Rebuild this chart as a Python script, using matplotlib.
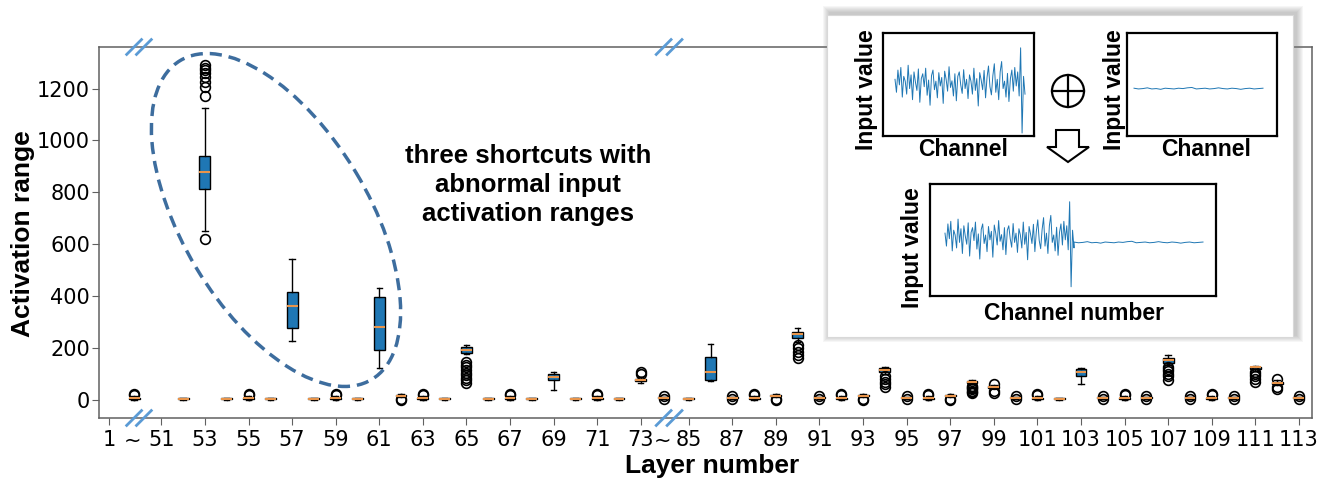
import matplotlib
matplotlib.use("Agg")
import matplotlib.pyplot as plt
import numpy as np
from matplotlib.patches import Ellipse, Rectangle, Circle, Polygon
from matplotlib.transforms import blended_transform_factory

# ---- box statistics (order: ~, 52..73, ~, 85..113) ----
box_labels = ["~"] + [str(l) for l in range(52, 74)] + ["~"] + [str(l) for l in range(85, 114)]

box_q1 = [3, 2, 813, 2, 3, 2, 275, 2, 3, 2, 194, 13, 3, 2, 182, 2, 3, 2, 77, 2, 3, 2, 72,
          6, 2, 77, 6, 3, 13, 240, 6, 3, 13, 108, 6, 3, 13, 66, 46, 6, 3, 2, 93, 6, 3, 6,
          143, 6, 3, 6, 120, 62, 6]
box_med = [6, 4, 879, 4, 6, 4, 360, 4, 6, 4, 279, 16, 6, 4, 193, 4, 6, 4, 88, 4, 6, 4, 78,
           8, 4, 108, 8, 6, 16, 252, 8, 6, 16, 115, 8, 6, 16, 70, 48, 8, 6, 4, 107, 8, 6, 8,
           155, 8, 6, 8, 125, 66, 8]
box_q3 = [9, 6, 941, 6, 9, 6, 414, 6, 9, 6, 398, 18, 9, 6, 205, 6, 9, 6, 100, 6, 9, 6, 82,
          10, 6, 167, 10, 9, 18, 263, 10, 9, 18, 123, 10, 9, 18, 74, 52, 10, 9, 6, 120, 10, 9,
          10, 163, 10, 9, 10, 128, 70, 10]
box_lo = [0, 0, 650, 0, 0, 0, 228, 0, 0, 0, 124, 11, 0, 0, 175, 0, 0, 0, 39, 0, 0, 0, 66,
          4, 0, 74, 4, 0, 11, 222, 4, 0, 11, 100, 4, 0, 11, 62, 44, 4, 0, 0, 62, 4, 0, 4,
          135, 4, 0, 4, 112, 58, 4]
box_hi = [13, 9, 1123, 9, 13, 9, 542, 9, 13, 9, 430, 21, 13, 9, 213, 9, 13, 9, 108, 9, 13, 9, 88,
          12, 9, 217, 12, 13, 21, 275, 12, 13, 21, 127, 12, 13, 21, 78, 56, 12, 13, 9, 122, 12,
          13, 12, 174, 12, 13, 12, 130, 75, 12]
box_fliers = [
    [18, 21], [], [620, 1170, 1205, 1225, 1245, 1260, 1270, 1280, 1290], [], [18, 21], [], [],
    [], [18, 21], [], [], [1, 4], [18, 21], [], [66, 75, 85, 95, 105, 115, 125, 135, 147], [],
    [18, 21], [], [], [], [18, 21], [], [98, 106],
    [2, 15], [], [], [2, 15], [18, 21], [1, 4], [160, 172, 185, 198, 210], [2, 15], [18, 21],
    [1, 4], [50, 60, 70, 80, 90], [2, 15], [18, 21], [1, 4], [25, 30, 35, 40, 45, 50, 55],
    [28, 35, 60], [2, 15], [18, 21], [], [], [2, 15], [18, 21], [2, 15],
    [75, 90, 100, 110, 120, 128], [2, 15], [18, 21], [2, 15], [70, 80, 90, 100, 108],
    [40, 48, 82], [2, 15],
]

tick_labels = ["1", "~"] + [str(l) for l in range(51, 74, 2)] + ["~"] + [str(l) for l in range(85, 114, 2)]
y_ticks = [0, 200, 400, 600, 800, 1000, 1200]

# inset sketch signals (hand-read shapes)
sig_noisy = [0.10, -0.25, 0.35, -0.05, 0.42, -0.38, 0.18, 0.05, -0.30, 0.48, -0.15, 0.22,
             -0.45, 0.30, 0.02, -0.20, 0.38, -0.52, 0.12, 0.25, -0.10, 0.40, -0.33, 0.08,
             -0.60, 0.20, 0.35, -0.18, 0.05, -0.40, 0.28, -0.08, 0.15, -0.55, 0.32, 0.10,
             -0.22, 0.44, -0.12, 0.06, -0.35, 0.25, -0.48, 0.18, 0.30, -0.05, -0.28, 0.36,
             -0.15, 0.10, -0.42, 0.22, 0.05, -0.30, 0.40, -0.20, 0.12, -0.62, 0.28, 0.08,
             -0.18, 0.34, -0.40, 0.15, 0.46, -0.10, -0.32, 0.20, 0.52, -0.25, 0.10, -0.45,
             0.30, 0.58, -0.15, 0.05, -0.38, 0.26, -0.50, 0.12, 0.35, -0.22, 0.42, -0.08,
             0.30, -0.35, 0.95, -1.35, 0.18, -0.30]
sig_flat = [-0.14, -0.16, -0.15, -0.13, -0.16, -0.15, -0.17, -0.14, -0.15, -0.16, -0.14,
            -0.15, -0.13, -0.12, -0.16, -0.15, -0.14, -0.16, -0.15, -0.13, -0.15, -0.16,
            -0.14, -0.15, -0.17, -0.15, -0.14, -0.16, -0.15, -0.14]


def layer_pos(label, nth_tilde):
    # x position on a squeezed axis: two "~" gaps stand in for the skipped layers
    if label == "~":
        return [1.15, 25.45][nth_tilde]
    l = int(label)
    if l == 1:
        return 0.0
    if l <= 73:
        return 2.4 + (l - 51)
    return 26.6 + (l - 85)


def positions(labels, tilde_shift=0.0):
    out, k = [], 0
    for lab in labels:
        p = layer_pos(lab, k)
        if lab == "~":
            k += 1
            p -= tilde_shift
        out.append(p)
    return out


W, H = 1323, 480
fig = plt.figure(figsize=(W / 100, H / 100), dpi=100)
ax = fig.add_axes([99 / W, 1 - 418 / H, (1312 - 99) / W, (418 - 47) / H])

stats = [dict(med=m, q1=a, q3=b, whislo=lo, whishi=hi, fliers=f)
         for m, a, b, lo, hi, f in zip(box_med, box_q1, box_q3, box_lo, box_hi, box_fliers)]
ax.bxp(stats, positions=positions(box_labels), widths=0.5, patch_artist=True,
       manage_ticks=False,
       boxprops=dict(facecolor="#1f77b4", edgecolor="black", linewidth=1),
       medianprops=dict(color="#e8944a", linewidth=1.5),
       whiskerprops=dict(color="black", linewidth=1),
       capprops=dict(color="black", linewidth=1),
       flierprops=dict(marker="o", markerfacecolor="none", markeredgecolor="black",
                       markersize=7, markeredgewidth=1.2))

ax.set_xlim(-0.46, 55.2)
ax.set_ylim(-70, 1360)
tpos = positions(tick_labels, tilde_shift=0.05)
ax.set_xticks(tpos)
ax.set_xticklabels(tick_labels, fontsize=15)
ax.set_yticks(y_ticks)
ax.set_yticklabels([str(v) for v in y_ticks], fontsize=15)
for i, lab in enumerate(tick_labels):
    if lab == "~":
        ax.xaxis.get_major_ticks()[i].tick1line.set_visible(False)
for s in ax.spines.values():
    s.set_color("#606060")
    s.set_linewidth(1.1)
ax.tick_params(length=5, color="#606060")
ax.tick_params(axis="x", pad=4)
ax.tick_params(axis="y", pad=1.5)

# axis-break marks
bt = blended_transform_factory(ax.transData, ax.transAxes)
for xc in [1.15, 1.6, 25.45, 25.95]:
    for yc in [0.0, 1.0]:
        ax.plot([xc - 0.34, xc + 0.34], [yc - 0.02, yc + 0.02], color="#5b9bd5", lw=2,
                transform=bt, clip_on=False, zorder=5)

fig.text(23 / W, 1 - 234 / H, "Activation range", rotation=90, ha="center", va="center",
         fontsize=19, fontweight="bold", family="Liberation Sans")
fig.text(712 / W, 1 - 466 / H, "Layer number", ha="center", va="center",
         fontsize=19, fontweight="bold", family="Liberation Sans")
fig.text(528 / W, 1 - 185 / H, "three shortcuts with\nabnormal input\nactivation ranges",
         ha="center", va="center", fontsize=18.5, fontweight="bold",
         family="Liberation Sans", linespacing=1.25)

# overlay in pixel coordinates for the hand-drawn pieces
ov = fig.add_axes([0, 0, 1, 1], zorder=20)
ov.set_xlim(0, W)
ov.set_ylim(H, 0)
ov.axis("off")
ov.patch.set_visible(False)

ov.add_patch(Ellipse((276, 220), 372, 186, angle=59, fill=False, edgecolor="#3d6d9e",
                     lw=2.5, linestyle=(0, (3.5, 2))))

# inset card with soft shadow
x0, y0, x1, y1 = 827, 15, 1293, 337
for k in range(7, 0, -1):
    ov.add_patch(Rectangle((x0 - k + 3, y0 - k - 2), x1 - x0 + 2 * k, y1 - y0 + 2 * k,
                           facecolor="#808080", edgecolor="none", alpha=0.07))
ov.add_patch(Rectangle((x0, y0), x1 - x0, y1 - y0, facecolor="white", edgecolor="#d8d8d8", lw=0.8))

# plus sign and hollow arrow
ov.add_patch(Circle((1068, 91), 16, fill=False, edgecolor="black", lw=1.6))
ov.plot([1052, 1084], [91, 91], color="black", lw=1.6)
ov.plot([1068, 1068], [75, 107], color="black", lw=1.6)
ov.add_patch(Polygon([(1056, 130), (1079, 130), (1079, 147), (1089, 147), (1068, 162),
                      (1047, 147), (1056, 147)], closed=True, facecolor="white",
                     edgecolor="black", lw=1.5))


def panel(px0, py0, px1, py1, sx0, sx1, ylim):
    a = fig.add_axes([px0 / W, 1 - py1 / H, (px1 - px0) / W, (py1 - py0) / H], zorder=25)
    a.set_xticks([])
    a.set_yticks([])
    for s in a.spines.values():
        s.set_linewidth(1.6)
        s.set_color("black")
    a.set_xlim(-(sx0 - px0) / (sx1 - sx0), 1 + (px1 - sx1) / (sx1 - sx0))
    a.set_ylim(*ylim)
    return a


lab_kw = dict(fontsize=16.5, fontweight="bold", family="Liberation Sans", zorder=30)

p1 = panel(883, 33, 1034, 136, 895, 1025, (-1.43, 1.35))
p1.plot(np.linspace(0, 1, len(sig_noisy)), sig_noisy, color="#1f77b4", lw=0.7)
p2 = panel(1127, 33, 1277, 136, 1134, 1263, (-1.43, 1.35))
p2.plot(np.linspace(0, 1, len(sig_flat)), sig_flat, color="#1f77b4", lw=0.7)
p3 = panel(930, 184, 1216, 296, 945, 1203, (-1.6, 1.43))
xx = np.concatenate([np.linspace(0, 0.5, len(sig_noisy)), np.linspace(0.5, 1, len(sig_flat))])
p3.plot(xx, sig_noisy + sig_flat, color="#1f77b4", lw=0.7)

for (tx, ty) in [(867, 90), (1114, 90), (913, 248)]:
    fig.text(tx / W, 1 - ty / H, "Input value", rotation=90, ha="center", va="center", **lab_kw)
fig.text(963 / W, 1 - 150 / H, "Channel", ha="center", va="center", **lab_kw)
fig.text(1206 / W, 1 - 150 / H, "Channel", ha="center", va="center", **lab_kw)
fig.text(1074 / W, 1 - 313 / H, "Channel number", ha="center", va="center", **lab_kw)

fig.savefig("out.png", dpi=100)
